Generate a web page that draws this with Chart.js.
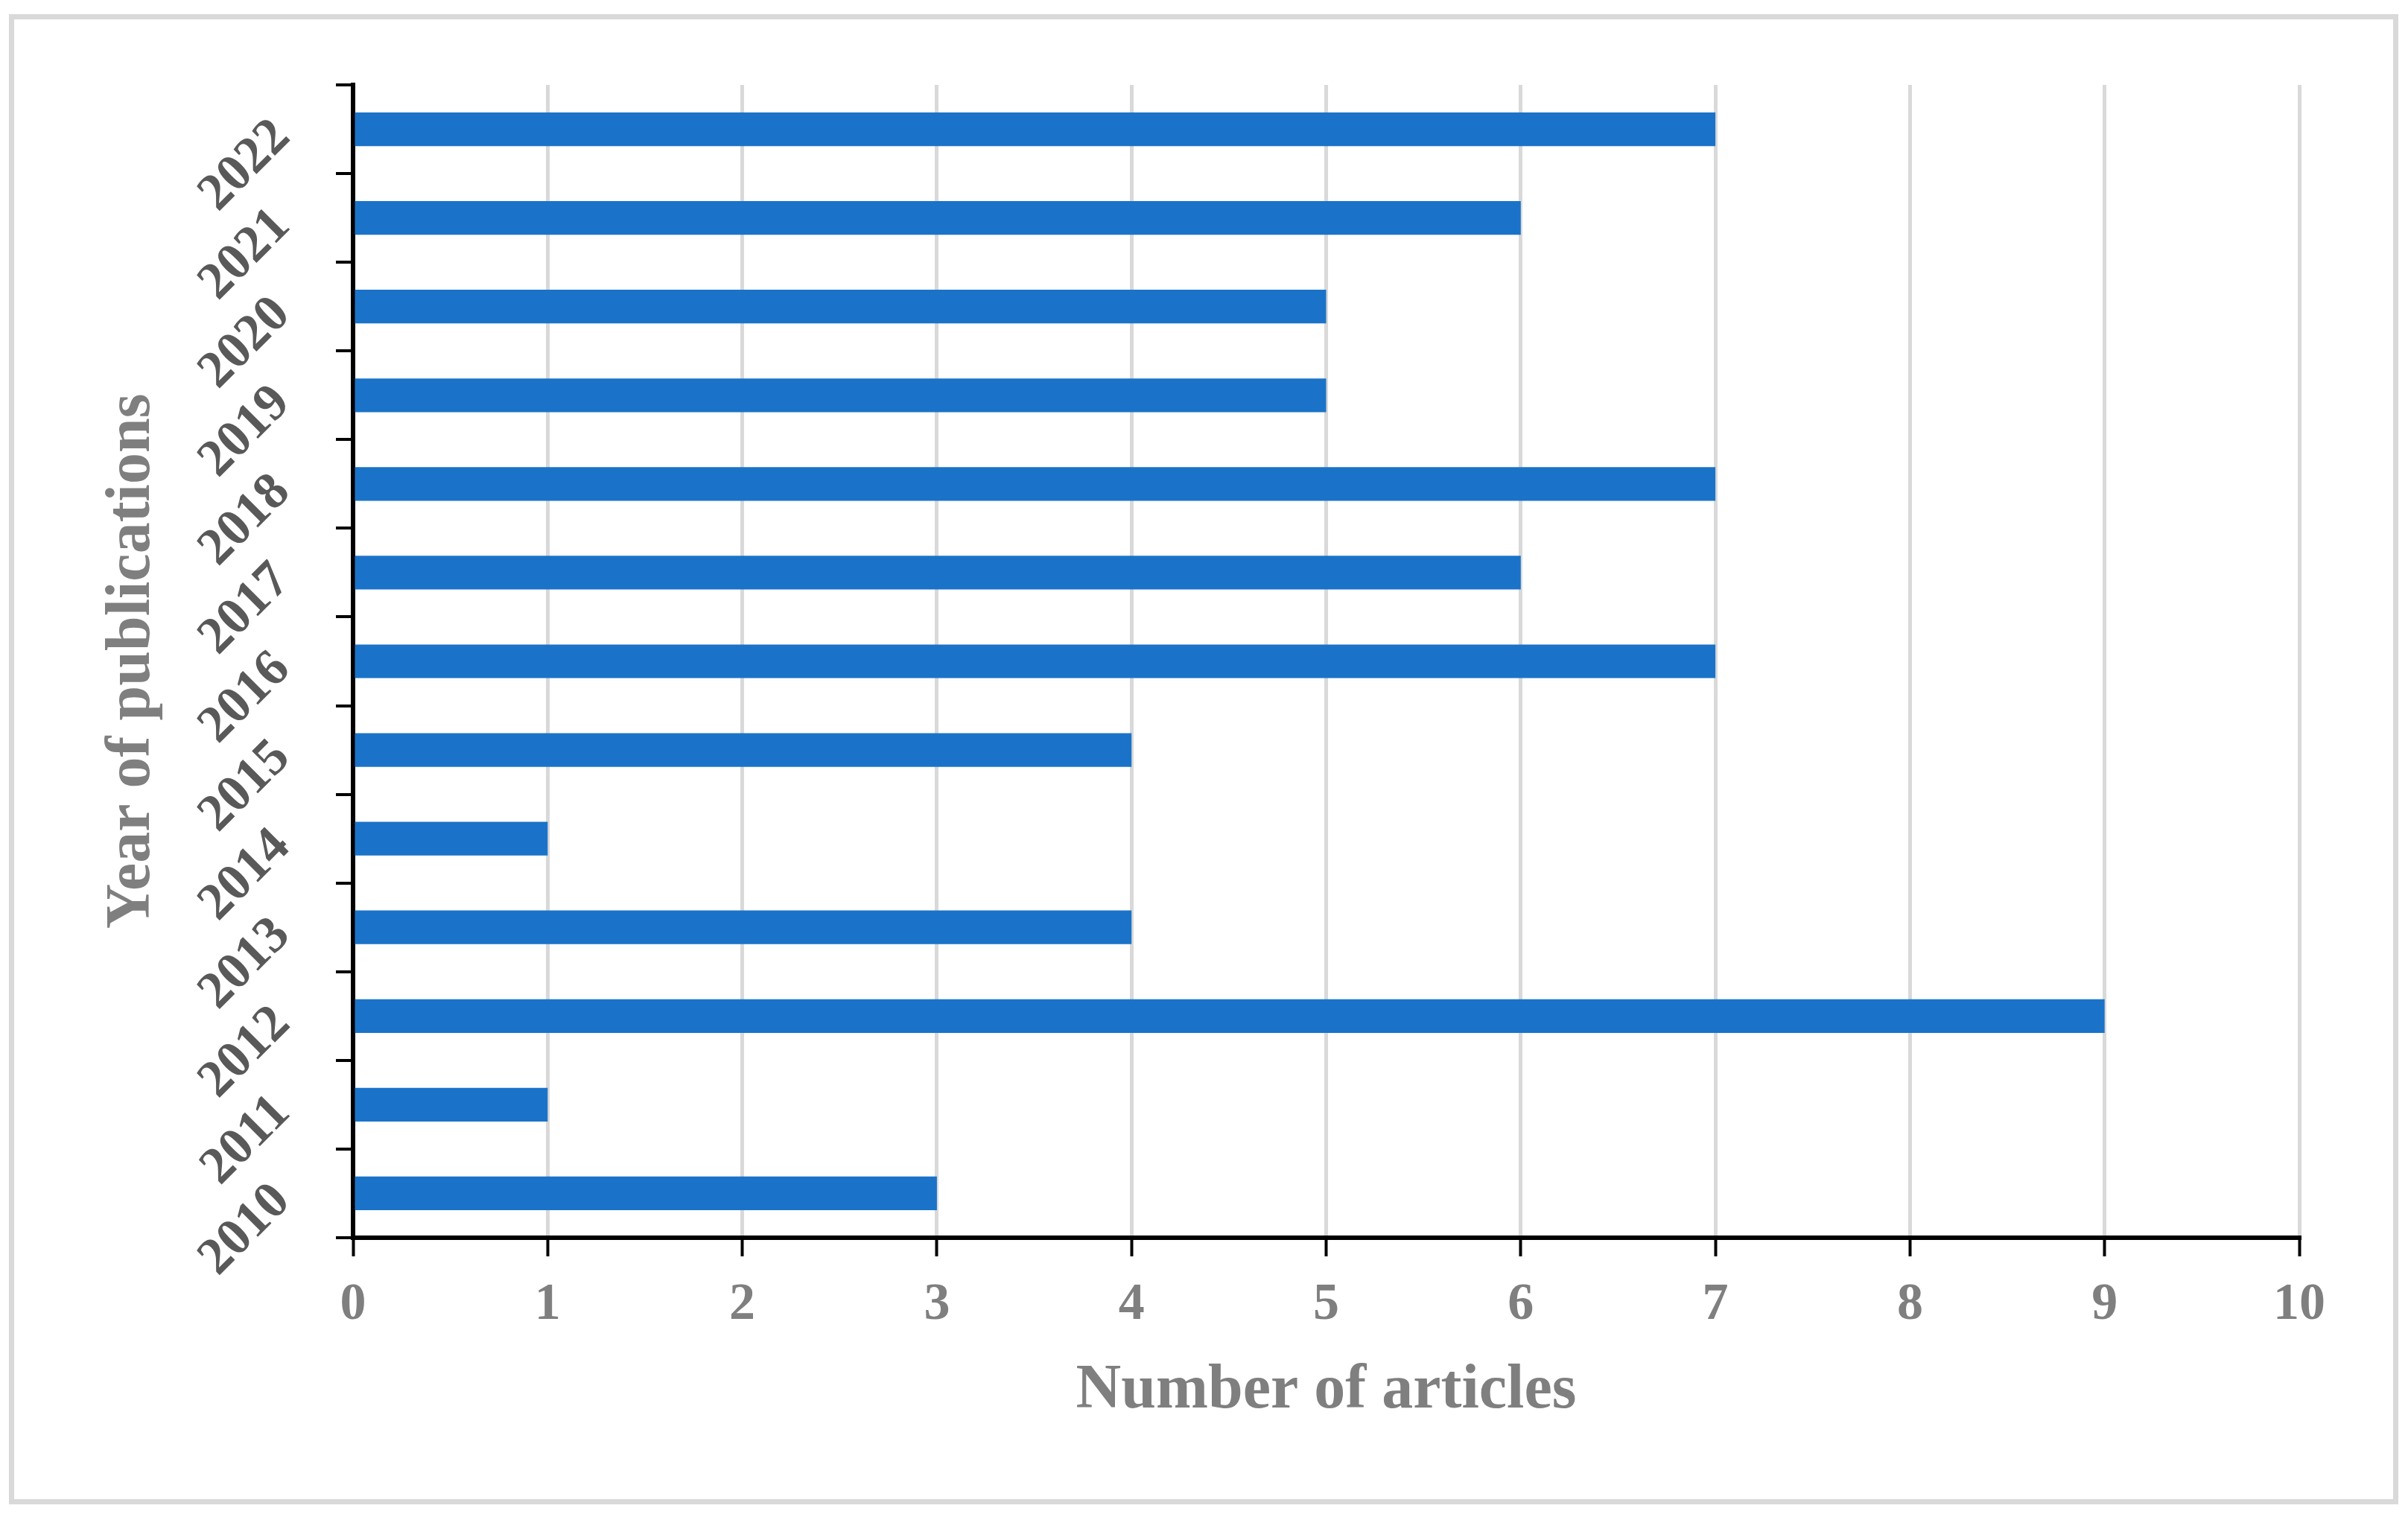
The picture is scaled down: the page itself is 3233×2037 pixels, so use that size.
<!DOCTYPE html>
<html>
<head>
<meta charset="utf-8">
<script src="https://cdn.jsdelivr.net/npm/chart.js@4"></script>
<style>
  body { margin: 0; background: #fff; }
  canvas { display: block; }
</style>
</head>
<body>
<canvas id="chart" width="3233" height="2037"></canvas>
<script>
const years = ['2010', '2011', '2012', '2013', '2014', '2015', '2016', '2017', '2018', '2019', '2020', '2021', '2022'];
const articles = [3, 1, 9, 4, 1, 4, 7, 6, 7, 5, 5, 6, 7];
const xTicks = [0, 1, 2, 3, 4, 5, 6, 7, 8, 9, 10];

const serif = 'Liberation Serif';

// white page + light grey frame round the whole figure
const framePlugin = {
    id: 'frame',
    beforeDraw(chart) {
        const ctx = chart.ctx;
        ctx.save();
        ctx.fillStyle = '#fff';
        ctx.fillRect(0, 0, chart.width, chart.height);
        ctx.strokeStyle = '#d9d9d9';
        ctx.lineWidth = 7;
        ctx.strokeRect(15.5, 22.5, 3201, 1994);
        ctx.restore();
    }
};

const ctx = document.getElementById('chart').getContext('2d');
new Chart(ctx, {
    type: 'bar',
    data: {
        labels: years,
        datasets: [{
            label: 'Number of articles',
            data: articles,
            backgroundColor: '#1a73c8',
            borderWidth: 0,
            barPercentage: 0.38,
            categoryPercentage: 1.0
        }]
    },
    options: {
        indexAxis: 'y',
        responsive: false,
        animation: false,
        layout: {
            padding: { top: 113, right: 146, bottom: 0, left: 0 }
        },
        plugins: {
            legend: { display: false },
            tooltip: { enabled: false }
        },
        scales: {
            x: {
                min: 0,
                max: 10,
                afterBuildTicks(scale) {
                    scale.ticks = xTicks.map(v => ({ value: v }));
                },
                afterFit(scale) { scale.height = 375; },
                grid: {
                    color: '#d9d9d9',
                    lineWidth: 5,
                    drawTicks: true,
                    tickColor: '#000',
                    tickWidth: 4,
                    tickLength: 25
                },
                border: { display: true, color: '#000', width: 6 },
                ticks: {
                    color: '#7f7f7f',
                    padding: 24,
                    maxRotation: 0,
                    autoSkip: false,
                    font: { family: serif, size: 70, weight: 'bold' }
                },
                title: {
                    display: true,
                    text: 'Number of articles',
                    color: '#7f7f7f',
                    padding: { top: 0, bottom: 118 },
                    font: { family: serif, size: 84, weight: 'bold' }
                }
            },
            y: {
                reverse: true,
                offset: true,
                afterFit(scale) { scale.width = 474; },
                grid: {
                    display: true,
                    offset: true,
                    drawOnChartArea: false,
                    drawTicks: true,
                    color: '#000',
                    lineWidth: 4,
                    tickLength: 23
                },
                border: { display: true, color: '#000', width: 6 },
                ticks: {
                    color: '#595959',
                    padding: 72,
                    minRotation: 45,
                    maxRotation: 45,
                    autoSkip: false,
                    font: { family: serif, size: 70, weight: 'bold' }
                },
                title: {
                    display: true,
                    text: 'Year of publications',
                    color: '#7f7f7f',
                    padding: { top: 128, bottom: 0 },
                    font: { family: serif, size: 84, weight: 'bold' }
                }
            }
        }
    },
    plugins: [framePlugin]
});
</script>
</body>
</html>
